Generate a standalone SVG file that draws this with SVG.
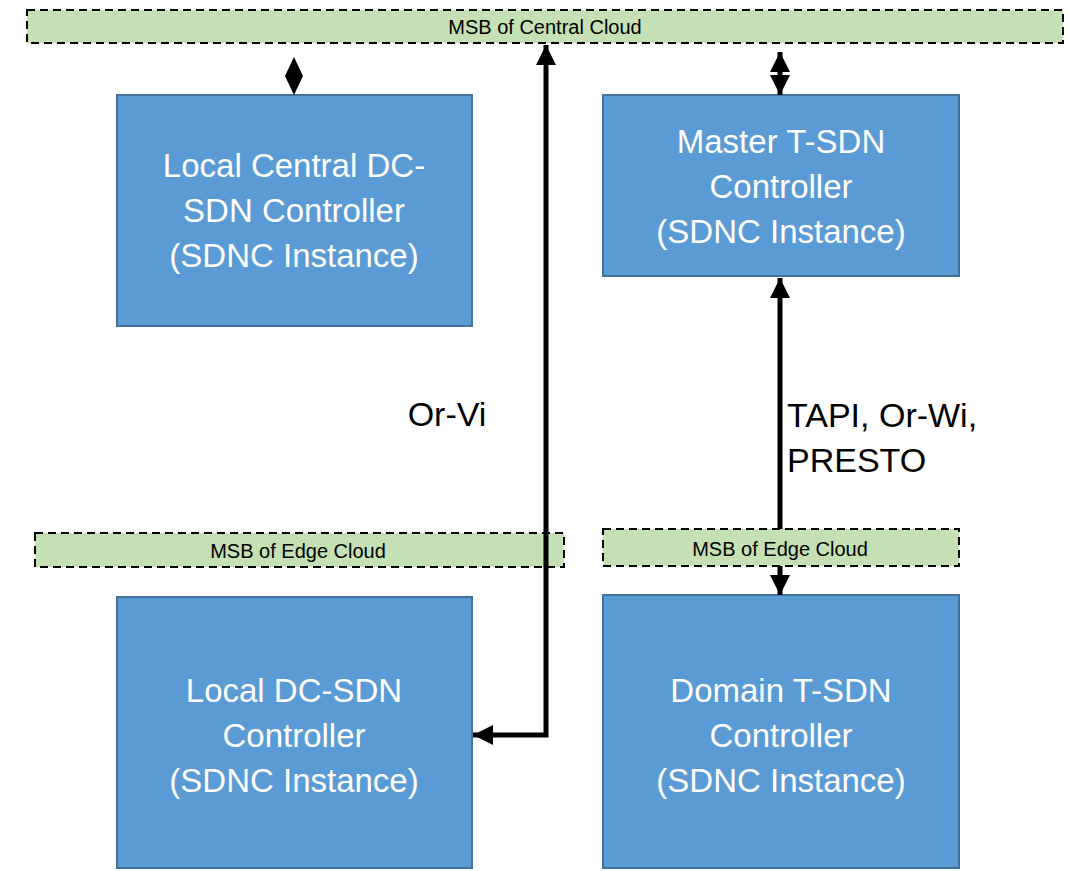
<svg xmlns="http://www.w3.org/2000/svg" width="1069" height="871" viewBox="0 0 1069 871">
<style>
.box{fill:#5B9BD5;stroke:#41719C;stroke-width:2}
.bar{fill:#C5E0B4;stroke:#000;stroke-width:2;stroke-dasharray:8 5}
.bt{font-family:"Liberation Sans",Arial,sans-serif;font-size:33px;fill:#fff;text-anchor:middle}
.st{font-family:"Liberation Sans",Arial,sans-serif;font-size:20px;fill:#000;text-anchor:middle}
.lt{font-family:"Liberation Sans",Arial,sans-serif;font-size:34px;fill:#000}
.ln{stroke:#000;stroke-width:5;fill:none}
</style>
<defs>
<marker id="ah" viewBox="0 0 10 10" refX="10" refY="5" markerWidth="4" markerHeight="4" orient="auto-start-reverse" markerUnits="strokeWidth"><path d="M0,0 L10,5 L0,10 z" fill="#000"/></marker>
</defs>
<rect width="1069" height="871" fill="#fff"/>
<g id="msb-central"><rect class="bar" x="27" y="10" width="1036" height="33"/><text class="st" x="545" y="34">MSB of Central Cloud</text></g>
<g id="local-central"><rect class="box" x="117" y="95" width="355" height="231"/><text class="bt" x="294" y="177">Local Central DC-</text><text class="bt" x="294" y="222">SDN Controller</text><text class="bt" x="294" y="267">(SDNC Instance)</text></g>
<g id="master"><rect class="box" x="603" y="95" width="356" height="181"/><text class="bt" x="781" y="153">Master T-SDN</text><text class="bt" x="781" y="198">Controller</text><text class="bt" x="781" y="243">(SDNC Instance)</text></g>
<g id="msb-edge-left"><rect class="bar" x="35" y="533" width="529" height="34"/><text class="st" x="298" y="558">MSB of Edge Cloud</text></g>
<g id="msb-edge-right"><rect class="bar" x="603" y="529" width="356" height="37"/><text class="st" x="780" y="556">MSB of Edge Cloud</text></g>
<g id="local-dc"><rect class="box" x="117" y="597" width="355" height="271"/><text class="bt" x="294" y="702">Local DC-SDN</text><text class="bt" x="294" y="747">Controller</text><text class="bt" x="294" y="792">(SDNC Instance)</text></g>
<g id="domain"><rect class="box" x="603" y="595" width="356" height="273"/><text class="bt" x="781" y="702">Domain T-SDN</text><text class="bt" x="781" y="747">Controller</text><text class="bt" x="781" y="792">(SDNC Instance)</text></g>
<g id="connectors">
<path d="M294,57 L303,76 L294,95 L285,76 z" fill="#000"/>
<path class="ln" d="M780,52 L780,95" marker-start="url(#ah)" marker-end="url(#ah)"/>
<path class="ln" d="M546,45 L546,735 L473,735" stroke-linejoin="miter" marker-start="url(#ah)" marker-end="url(#ah)"/>
<path class="ln" d="M780,278 L780,529" marker-start="url(#ah)"/>
<path class="ln" d="M780,566 L780,595" marker-end="url(#ah)"/>
<text class="lt" x="447" y="426" text-anchor="middle">Or-Vi</text>
<text class="lt" x="787" y="427">TAPI, Or-Wi,</text>
<text class="lt" x="787" y="472">PRESTO</text>
</g>
</svg>
